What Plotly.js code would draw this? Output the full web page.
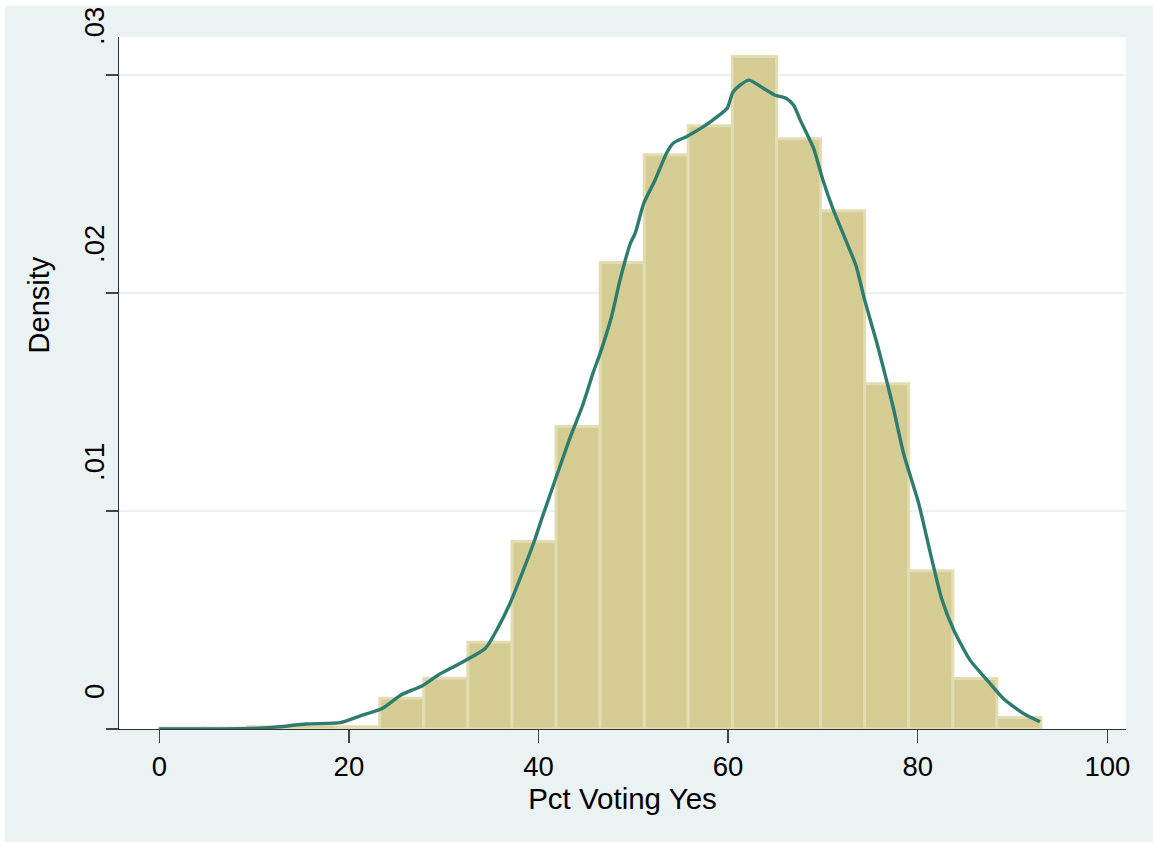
<!DOCTYPE html>
<html><head><meta charset="utf-8">
<script src="https://cdn.plot.ly/plotly-3.0.1.min.js"></script>
<style>
html,body{margin:0;padding:0;background:#fff;width:1153px;height:842px;overflow:hidden;}
#chart{position:absolute;left:5px;top:6px;width:1148px;height:836px;}
</style></head><body><div id="chart"></div>
<script>
// Histogram bins (density scale), bin width 4.65 starting at 0
const binWidth = 4.65;
const binLeft = [0, 4.65, 9.3, 13.95, 18.6, 23.25, 27.9, 32.55, 37.2, 41.85,
                 46.5, 51.15, 55.8, 60.45, 65.1, 69.75, 74.4, 79.05, 83.7, 88.35];
const binDensity = [0.00005, 0.00005, 0.0001, 0.00019, 0.0001, 0.00141, 0.00233, 0.00398, 0.0086, 0.01388,
                    0.0214, 0.02634, 0.02767, 0.03085, 0.02707, 0.02377, 0.01583, 0.00726, 0.00232, 0.00053];

// Kernel density curve
const kdeX = [0, 4, 8.9, 11, 12.7, 15.5, 19.1, 21.2, 23.5, 25.5, 27.8, 29.5, 31.6, 34.4, 35.7, 37.0, 38.4, 39.6, 40.3,
              43.3, 44.6, 45.8, 46.5, 47.7, 48.6, 49.7, 50.2, 51.1, 52.3, 53.5, 54.2, 55.6, 57.4, 59.1, 59.9, 60.5, 61.3,
              62.2, 63.7, 64.9, 66.1, 66.9, 67.6, 69.0, 70.0, 71.1, 72.4, 73.5, 74.4, 75.7, 76.7, 77.4, 78.5, 80.1,
              81.4, 82.5, 83.8, 85.5, 87.3, 89.0, 91.1, 92.9];
const kdeY = [0, 0, 0.00001, 0.00005, 0.000105, 0.00023, 0.00029, 0.0006, 0.00094, 0.00156, 0.0020, 0.0025, 0.00298,
              0.0037, 0.00463, 0.00577, 0.00729, 0.00867, 0.00959,
              0.01333, 0.01478, 0.01639, 0.01723, 0.01891, 0.0206, 0.02228, 0.02274, 0.02411, 0.02518, 0.02641, 0.02687,
              0.02717, 0.02763, 0.02817, 0.02847, 0.0292, 0.02954,
              0.02976, 0.02939, 0.02908, 0.02893, 0.02862, 0.02794, 0.02665, 0.02518, 0.02381, 0.02243, 0.02124, 0.01968,
              0.01769, 0.01601, 0.01478, 0.01265, 0.01035,
              0.00794, 0.00601, 0.00454, 0.00317, 0.00225, 0.00141, 0.00072, 0.00033];

const xTicks = [0, 20, 40, 60, 80, 100];
const yTicks = [0, 0.01, 0.02, 0.03];
const yTickText = ['0\u00a0\u00a0\u00a0', '.01', '.02', '.03'];

const FONT = 'Liberation Sans, Arial, Helvetica, sans-serif';

const traces = [
  {
    type: 'bar',
    x: binLeft,
    y: binDensity,
    width: binLeft.map(() => binWidth),
    offset: 0,
    marker: {color: '#d4cc92', line: {color: '#e1dcb1', width: 3}},
    hoverinfo: 'skip'
  },
  {
    type: 'scatter',
    mode: 'lines',
    x: kdeX,
    y: kdeY,
    line: {color: '#2e7b70', width: 3.4, shape: 'spline', smoothing: 0.6},
    hoverinfo: 'skip'
  }
];

const layout = {
  width: 1148, height: 836,
  margin: {l: 114, r: 27, t: 31, b: 113},
  paper_bgcolor: '#eaf2f3',
  plot_bgcolor: '#ffffff',
  showlegend: false,
  bargap: 0,
  font: {family: FONT, color: '#000'},
  xaxis: {
    range: [-4.25, 101.97],
    tickvals: xTicks,
    ticks: 'outside', ticklen: 13, tickwidth: 1.3, tickcolor: '#444',
    showline: true, linecolor: '#333', linewidth: 1.3,
    showgrid: false, zeroline: false,
    tickfont: {family: FONT, size: 27.5, color: '#000'},
    title: {text: 'Pct Voting Yes', font: {family: FONT, size: 29.5, color: '#000'}, standoff: 6}
  },
  yaxis: {
    range: [0, 0.03174],
    tickvals: yTicks, ticktext: yTickText,
    tickangle: -90,
    ticklabelshift: -45,
    ticklabelstandoff: -9,
    ticks: 'outside', ticklen: 12, tickwidth: 1.3, tickcolor: '#444',
    showline: true, linecolor: '#333', linewidth: 1.3,
    showgrid: true, gridcolor: '#eaf2f3', gridwidth: 2,
    zeroline: false,
    tickfont: {family: FONT, size: 27.5, color: '#000'}
  },
  annotations: [{
    text: 'Density', textangle: -90, showarrow: false,
    xref: 'paper', yref: 'paper', x: -0.0785, y: 0.5405,
    xanchor: 'center', yanchor: 'bottom',
    font: {family: FONT, size: 29, color: '#000'}
  }]
};

Plotly.newPlot('chart', traces, layout, {displayModeBar: false, staticPlot: true});
</script></body></html>
